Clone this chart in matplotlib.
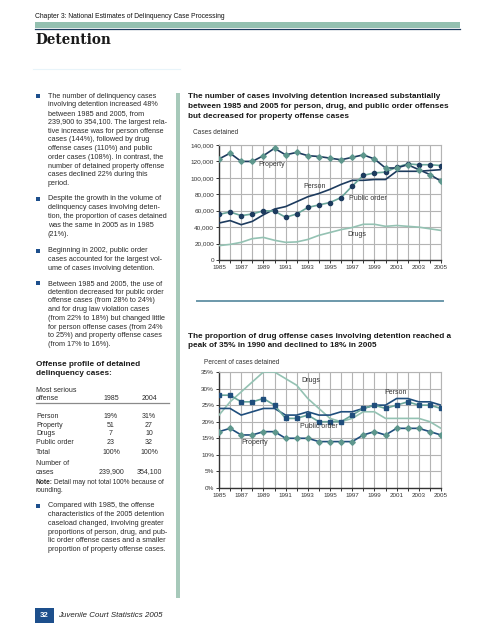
import matplotlib
matplotlib.use("Agg")
import matplotlib.pyplot as plt
from matplotlib.patches import Rectangle
from matplotlib.lines import Line2D
from matplotlib.ticker import FuncFormatter

plt.rcParams["font.family"] = ["Liberation Sans", "DejaVu Sans"]

W, H = 495, 640

# ---- data ----
years = list(range(1985, 2006))

cases_property = [123000, 130000, 120000, 120000, 127000, 136000, 128000, 131000, 127000, 126000,
                  124000, 122000, 125000, 128000, 123000, 112000, 112000, 116000, 110000, 104000, 96000]
cases_person = [45000, 48000, 43000, 47000, 55000, 62000, 65000, 71000, 77000, 81000,
                86000, 92000, 97000, 97000, 98000, 98000, 108000, 108000, 108000, 109000, 110000]
cases_public = [55500, 58500, 54000, 56000, 60000, 59500, 52000, 56000, 64000, 67000,
                70000, 76000, 90000, 103000, 106000, 107000, 113000, 117000, 116000, 116000, 115000]
cases_drugs = [17500, 19000, 21500, 26000, 27500, 24000, 21500, 22000, 25000, 30000,
               33500, 37000, 39500, 43500, 43500, 41000, 42000, 41000, 40000, 38000, 36000]

pct_drugs = [22, 26, 29, 32, 35, 35, 33, 31, 27, 24, 21, 20, 21, 23, 23, 21, 21, 21, 21, 20, 18]
pct_person = [24, 24, 22, 23, 24, 24, 22, 22, 23, 22, 22, 23, 23, 24, 25, 25, 27, 27, 26, 26, 25]
pct_public = [28, 28, 26, 26, 27, 25, 21, 21, 22, 20, 20, 20, 22, 24, 25, 24, 25, 26, 25, 25, 24]
pct_property = [17, 18, 16, 16, 17, 17, 15, 15, 15, 14, 14, 14, 14, 16, 17, 16, 18, 18, 18, 17, 16]

table_rows = ["Person", "Property", "Drugs", "Public order"]
table_1985 = ["19%", "51", "7", "23"]
table_2004 = ["31%", "27", "10", "32"]
total_1985, total_2004 = "100%", "100%"
count_1985, count_2004 = "239,900", "354,100"

para1 = ["The number of delinquency cases",
         "involving detention increased 48%",
         "between 1985 and 2005, from",
         "239,900 to 354,100. The largest rela-",
         "tive increase was for person offense",
         "cases (144%), followed by drug",
         "offense cases (110%) and public",
         "order cases (108%). In contrast, the",
         "number of detained property offense",
         "cases declined 22% during this",
         "period."]
para2 = ["Despite the growth in the volume of",
         "delinquency cases involving deten-",
         "tion, the proportion of cases detained",
         "was the same in 2005 as in 1985",
         "(21%)."]
para3 = ["Beginning in 2002, public order",
         "cases accounted for the largest vol-",
         "ume of cases involving detention."]
para4 = ["Between 1985 and 2005, the use of",
         "detention decreased for public order",
         "offense cases (from 28% to 24%)",
         "and for drug law violation cases",
         "(from 22% to 18%) but changed little",
         "for person offense cases (from 24%",
         "to 25%) and property offense cases",
         "(from 17% to 16%)."]
para5 = ["Compared with 1985, the offense",
         "characteristics of the 2005 detention",
         "caseload changed, involving greater",
         "proportions of person, drug, and pub-",
         "lic order offense cases and a smaller",
         "proportion of property offense cases."]

title1 = ["The number of cases involving detention increased substantially",
          "between 1985 and 2005 for person, drug, and public order offenses",
          "but decreased for property offense cases"]
title2 = ["The proportion of drug offense cases involving detention reached a",
          "peak of 35% in 1990 and declined to 18% in 2005"]

NAVY = "#1d3b5e"
BLUE = "#1f4e7c"
TEAL = "#6aa69b"
TEAL_MK = "#5e978d"
LIGHT = "#94c2b3"
TXT = "#2b2b2b"
GRID = "#b4b4b4"

fig = plt.figure(figsize=(W / 100, H / 100), dpi=100)


def fx(x):
    return x / W


def fy(y):
    return 1 - y / H


def put(x, y, s, size=5.2, **kw):
    kw.setdefault("color", TXT)
    fig.text(fx(x), fy(y), s, fontsize=size, va="center", **kw)


def lines(x, y0, rows, step=8.77, size=5.2, **kw):
    for i, s in enumerate(rows):
        put(x, y0 + i * step, s, size=size, **kw)


def bullet(y):
    fig.patches.append(Rectangle((fx(36), fy(y + 2)), 4 / W, 4 / H, transform=fig.transFigure,
                                 facecolor="#1d4f8c", edgecolor="none"))


def hline(x0, x1, y, color, lw):
    fig.add_artist(Line2D([fx(x0), fx(x1)], [fy(y), fy(y)], transform=fig.transFigure,
                          color=color, lw=lw))


# header
put(35, 16, "Chapter 3: National Estimates of Delinquency Case Processing", size=4.9, color="#111111")
fig.patches.append(Rectangle((fx(35), fy(28)), 425 / W, 6 / H, transform=fig.transFigure,
                             facecolor="#94c0b0", edgecolor="none"))
hline(35, 460, 28.6, "#1d3b5e", 0.9)
put(35, 40, "Detention", size=9.8, color="#1a1a1a", family="DejaVu Serif", fontweight="bold")
hline(33, 180, 68.5, "#e8f4fa", 0.8)

# separator bar
fig.patches.append(Rectangle((fx(176), fy(598)), 4 / W, 505 / H, transform=fig.transFigure,
                             facecolor="#a7c9ba", edgecolor="none"))

# left column
for y0, para in [(96, para1), (199, para2), (251, para3), (283.3, para4)]:
    bullet(y0)
    lines(48, y0, para)

put(36, 364, "Offense profile of detained", size=5.85, fontweight="bold", color="#1a1a1a")
put(36, 373.5, "delinquency cases:", size=5.85, fontweight="bold", color="#1a1a1a")
put(36, 391, "Most serious", size=5.0)
put(36, 398.5, "offense", size=5.0)
put(111, 398.5, "1985", size=5.0, ha="center")
put(149, 398.5, "2004", size=5.0, ha="center")
hline(36, 169, 403, "#8a8a8a", 0.9)
for i, (name, a, b) in enumerate(zip(table_rows, table_1985, table_2004)):
    y = 417 + i * 8.4
    put(36, y, name, size=5.0)
    put(111, y, a, size=5.0, ha="center")
    put(149, y, b, size=5.0, ha="center")
put(36, 452.7, "Total", size=5.0)
put(111, 452.7, total_1985, size=5.0, ha="center")
put(149, 452.7, total_2004, size=5.0, ha="center")
put(36, 463.3, "Number of", size=5.0)
put(36, 472, "cases", size=5.0)
put(111, 472, count_1985, size=5.0, ha="center")
put(149, 472, count_2004, size=5.0, ha="center")
put(36, 482, "Note:", size=4.8, fontweight="bold")
put(53.5, 482, "Detail may not total 100% because of", size=4.8)
put(36, 490, "rounding.", size=4.8)

bullet(505.7)
lines(48, 505.7, para5)

# footer
fig.patches.append(Rectangle((fx(35), fy(623)), 19 / W, 15 / H, transform=fig.transFigure,
                             facecolor="#1d4f8c", edgecolor="none"))
put(44.5, 615.5, "32", size=5.6, color="white", ha="center", fontweight="bold")
put(58, 615.5, "Juvenile Court Statistics 2005", size=5.7, style="italic", color="#222222")

# chart titles
lines(188, 96.7, title1, step=9.67, size=5.85, fontweight="bold", color="#1a1a1a")
lines(188, 336, title2, step=9.3, size=5.85, fontweight="bold", color="#1a1a1a")
hline(197, 443, 301, "#6b98aa", 1.4)


def setup(ax, ymax, ystep, fmt):
    ax.set_xlim(1985, 2005)
    ax.set_ylim(0, ymax)
    ax.set_xticks(years)
    ax.set_xticklabels([str(y) if (y - 1985) % 2 == 0 else "" for y in years])
    ax.set_yticks(range(0, ymax + 1, ystep))
    ax.yaxis.set_major_formatter(FuncFormatter(fmt))
    ax.grid(True, color=GRID, lw=0.8)
    ax.set_axisbelow(True)
    for s in ["top", "right"]:
        ax.spines[s].set_color(GRID)
        ax.spines[s].set_linewidth(0.8)
    for s in ["left", "bottom"]:
        ax.spines[s].set_color("#333333")
        ax.spines[s].set_linewidth(1.0)
    ax.tick_params(axis="both", direction="out", length=2, width=0.7, color="#333333",
                   labelcolor="#333333", pad=1.5)
    ax.tick_params(axis="y", labelsize=4.6)
    ax.tick_params(axis="x", labelsize=4.5)
    ax.set_facecolor("white")


# chart 1: counts
ax1 = fig.add_axes([fx(219), fy(260), 222 / W, 115 / H])
setup(ax1, 140000, 20000, lambda v, p: f"{int(v):,}")
ax1.plot(years, cases_drugs, color=LIGHT, lw=1.2, zorder=3)
ax1.plot(years, cases_person, color=NAVY, lw=1.2, zorder=3)
ax1.plot(years, cases_public, color=TEAL, lw=1.2, marker="o", ms=3, mfc=NAVY, mec=NAVY, zorder=4)
ax1.plot(years, cases_property, color=NAVY, lw=1.2, marker="D", ms=2.8, mfc=TEAL_MK, mec=TEAL_MK, zorder=5)
put(193, 133, "Cases detained", size=4.7, color="#333333")
put(258, 165, "Property", size=5.0, color="#333333")
put(303, 187, "Person", size=5.0, color="#333333")
put(349, 198, "Public order", size=5.0, color="#333333")
put(347, 235, "Drugs", size=5.0, color="#333333")

# chart 2: percentages
ax2 = fig.add_axes([fx(219), fy(488), 222 / W, 116 / H])
setup(ax2, 35, 5, lambda v, p: f"{int(v)}%")
ax2.plot(years, pct_drugs, color=LIGHT, lw=1.2, zorder=3)
ax2.plot(years, pct_person, color=BLUE, lw=1.2, zorder=3)
ax2.plot(years, pct_public, color=TEAL, lw=1.2, marker="s", ms=2.8, mfc=BLUE, mec=BLUE, zorder=4)
ax2.plot(years, pct_property, color=BLUE, lw=1.2, marker="D", ms=2.8, mfc=TEAL_MK, mec=TEAL_MK, zorder=5)
put(204, 362, "Percent of cases detained", size=4.7, color="#333333")
put(301, 381, "Drugs", size=5.0, color="#333333")
put(384, 392, "Person", size=5.0, color="#333333")
put(300, 427, "Public order", size=5.0, color="#333333")
put(241, 442, "Property", size=5.0, color="#333333")

fig.savefig("out.png", dpi=100)
